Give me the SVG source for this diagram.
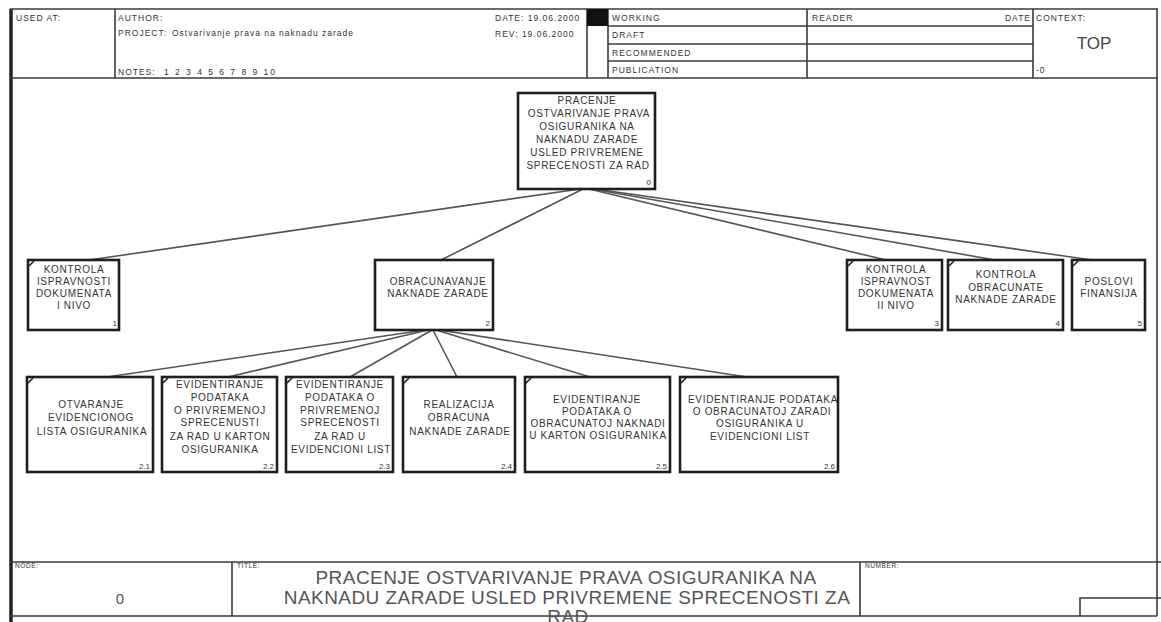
<svg xmlns="http://www.w3.org/2000/svg" width="1161" height="622" viewBox="0 0 1161 622">
  <style>
    .frame { stroke: #3a3a3a; stroke-width: 1.6; fill: none; }
    .hdr { font-family: "Liberation Sans", Arial, sans-serif; font-size: 8.5px; fill: #333; letter-spacing: 1px; }
    .small { font-family: "Liberation Sans", Arial, sans-serif; font-size: 6.5px; fill: #333; letter-spacing: 0.6px; }
    .box { fill: #fff; stroke: #1e1e1e; stroke-width: 2.6; }
    .lbl { font-family: "Liberation Sans", Arial, sans-serif; font-size: 10px; fill: #333; text-anchor: middle; letter-spacing: 0.7px; }
    .num { font-family: "Liberation Sans", Arial, sans-serif; font-size: 8px; fill: #333; text-anchor: end; }
    .tick { stroke: #1e1e1e; stroke-width: 1.6; }
    .conn line { stroke: #555; stroke-width: 1.6; }
    .title { font-family: "Liberation Sans", Arial, sans-serif; font-size: 19px; fill: #555; text-anchor: middle; letter-spacing: 0.45px; }
  </style>

  <rect width="1161" height="622" fill="#fff"/>

  <!-- outer frame -->
  <line x1="11" y1="9" x2="11" y2="622" stroke="#222" stroke-width="3.5"/>
  <line x1="1157" y1="9" x2="1157" y2="616" class="frame" stroke-width="1"/>

  <!-- header block -->
  <g id="header">
    <line class="frame" x1="10" y1="9" x2="1158" y2="9"/>
    <line class="frame" x1="10" y1="78" x2="1158" y2="78"/>
    <line class="frame" x1="115" y1="9" x2="115" y2="78"/>
    <line class="frame" x1="587" y1="9" x2="587" y2="78"/>
    <line class="frame" x1="608" y1="9" x2="608" y2="78"/>
    <line class="frame" x1="807" y1="9" x2="807" y2="78"/>
    <line class="frame" x1="1033" y1="9" x2="1033" y2="78"/>
    <line class="frame" x1="608" y1="26" x2="1033" y2="26"/>
    <line class="frame" x1="608" y1="44" x2="1033" y2="44"/>
    <line class="frame" x1="608" y1="61" x2="1033" y2="61"/>
    <rect x="587" y="9" width="21" height="17" fill="#111"/>

    <text class="hdr" x="16" y="21">USED AT:</text>
    <text class="hdr" x="118" y="21">AUTHOR:</text>
    <text class="hdr" x="118" y="36">PROJECT:</text>
    <text class="hdr" x="172" y="36">Ostvarivanje prava na naknadu zarade</text>
    <text class="hdr" x="118" y="75">NOTES:</text>
    <text class="hdr" x="164" y="75" textLength="112" lengthAdjust="spacing">1 2 3 4 5 6 7 8 9 10</text>
    <text class="hdr" x="495" y="21">DATE: 19.06.2000</text>
    <text class="hdr" x="495" y="37">REV:  19.06.2000</text>
    <text class="hdr" x="612" y="21">WORKING</text>
    <text class="hdr" x="612" y="38">DRAFT</text>
    <text class="hdr" x="612" y="56">RECOMMENDED</text>
    <text class="hdr" x="612" y="73">PUBLICATION</text>
    <text class="hdr" x="812" y="21">READER</text>
    <text class="hdr" x="1031" y="21" text-anchor="end">DATE</text>
    <text class="hdr" x="1036" y="21">CONTEXT:</text>
    <text x="1094" y="49" font-family="Liberation Sans, Arial, sans-serif" font-size="17" fill="#444" text-anchor="middle">TOP</text>
    <text class="hdr" x="1036" y="73">-0</text>
  </g>

  <!-- connectors -->
  <g id="connectors" class="conn">
    <line x1="580" y1="189" x2="89" y2="260"/>
    <line x1="583" y1="189" x2="441" y2="260"/>
    <line x1="589" y1="189" x2="886" y2="260"/>
    <line x1="592" y1="189" x2="995" y2="260"/>
    <line x1="595" y1="189" x2="1092" y2="260"/>
    <line x1="425" y1="330" x2="107" y2="377"/>
    <line x1="428" y1="330" x2="228" y2="377"/>
    <line x1="432" y1="330" x2="350" y2="377"/>
    <line x1="433" y1="330" x2="457" y2="377"/>
    <line x1="436" y1="330" x2="590" y2="377"/>
    <line x1="439" y1="330" x2="747" y2="377"/>
  </g>

  <!-- A0 -->
  <g id="node-0">
    <rect class="box" x="518" y="93" width="137" height="96"/>
    <text class="lbl" x="587" y="104">PRACENJE</text>
    <text class="lbl" x="589" y="117">OSTVARIVANJE PRAVA</text>
    <text class="lbl" x="587" y="130">OSIGURANIKA NA</text>
    <text class="lbl" x="587" y="143">NAKNADU ZARADE</text>
    <text class="lbl" x="587" y="156">USLED PRIVREMENE</text>
    <text class="lbl" x="588" y="169">SPRECENOSTI ZA RAD</text>
    <text class="num" x="651" y="185">0</text>
  </g>

  <g id="node-1">
    <rect class="box" x="28" y="260" width="91" height="70"/>
    <line class="tick" x1="29" y1="266" x2="34" y2="261"/>
    <text class="lbl" x="74" y="273">KONTROLA</text>
    <text class="lbl" x="74" y="285">ISPRAVNOSTI</text>
    <text class="lbl" x="74" y="297">DOKUMENATA</text>
    <text class="lbl" x="74" y="309">I NIVO</text>
    <text class="num" x="117" y="326">1</text>
  </g>

  <g id="node-2">
    <rect class="box" x="375" y="260" width="118" height="70"/>
    <text class="lbl" x="438" y="285">OBRACUNAVANJE</text>
    <text class="lbl" x="438" y="297">NAKNADE ZARADE</text>
    <text class="num" x="490" y="326">2</text>
  </g>

  <g id="node-3">
    <rect class="box" x="847" y="260" width="95" height="70"/>
    <line class="tick" x1="848" y1="266" x2="853" y2="261"/>
    <text class="lbl" x="896" y="273">KONTROLA</text>
    <text class="lbl" x="896" y="285">ISPRAVNOST</text>
    <text class="lbl" x="896" y="297">DOKUMENATA</text>
    <text class="lbl" x="896" y="309">II NIVO</text>
    <text class="num" x="939" y="326">3</text>
  </g>

  <g id="node-4">
    <rect class="box" x="948" y="260" width="115" height="70"/>
    <line class="tick" x1="949" y1="266" x2="954" y2="261"/>
    <text class="lbl" x="1006" y="278">KONTROLA</text>
    <text class="lbl" x="1006" y="291">OBRACUNATE</text>
    <text class="lbl" x="1006" y="303">NAKNADE ZARADE</text>
    <text class="num" x="1060" y="326">4</text>
  </g>

  <g id="node-5">
    <rect class="box" x="1072" y="260" width="73" height="70"/>
    <line class="tick" x1="1073" y1="266" x2="1078" y2="261"/>
    <text class="lbl" x="1109" y="285">POSLOVI</text>
    <text class="lbl" x="1109" y="297">FINANSIJA</text>
    <text class="num" x="1142" y="326">5</text>
  </g>

  <g id="node-2-1">
    <rect class="box" x="27" y="377" width="126" height="95"/>
    <line class="tick" x1="28" y1="383" x2="33" y2="378"/>
    <text class="lbl" x="91" y="408">OTVARANJE</text>
    <text class="lbl" x="91" y="421">EVIDENCIONOG</text>
    <text class="lbl" x="92" y="435">LISTA OSIGURANIKA</text>
    <text class="num" x="150" y="469">2.1</text>
  </g>

  <g id="node-2-2">
    <rect class="box" x="162" y="377" width="115" height="95"/>
    <line class="tick" x1="163" y1="383" x2="168" y2="378"/>
    <text class="lbl" x="220" y="388">EVIDENTIRANJE</text>
    <text class="lbl" x="220" y="401">PODATAKA</text>
    <text class="lbl" x="220" y="414">O PRIVREMENOJ</text>
    <text class="lbl" x="220" y="426">SPRECENUSTI</text>
    <text class="lbl" x="220" y="440">ZA RAD U KARTON</text>
    <text class="lbl" x="220" y="453">OSIGURANIKA</text>
    <text class="num" x="274" y="469">2.2</text>
  </g>

  <g id="node-2-3">
    <rect class="box" x="286" y="377" width="107" height="95"/>
    <line class="tick" x1="287" y1="383" x2="292" y2="378"/>
    <text class="lbl" x="340" y="388">EVIDENTIRANJE</text>
    <text class="lbl" x="340" y="401">PODATAKA O</text>
    <text class="lbl" x="340" y="414">PRIVREMENOJ</text>
    <text class="lbl" x="340" y="426">SPRECENOSTI</text>
    <text class="lbl" x="340" y="440">ZA RAD U</text>
    <text class="lbl" x="341" y="453">EVIDENCIONI LIST</text>
    <text class="num" x="390" y="469">2.3</text>
  </g>

  <g id="node-2-4">
    <rect class="box" x="403" y="377" width="112" height="95"/>
    <line class="tick" x1="404" y1="383" x2="409" y2="378"/>
    <text class="lbl" x="459" y="408">REALIZACIJA</text>
    <text class="lbl" x="459" y="421">OBRACUNA</text>
    <text class="lbl" x="460" y="435">NAKNADE ZARADE</text>
    <text class="num" x="512" y="469">2.4</text>
  </g>

  <g id="node-2-5">
    <rect class="box" x="525" y="377" width="145" height="95"/>
    <line class="tick" x1="526" y1="383" x2="531" y2="378"/>
    <text class="lbl" x="597" y="403">EVIDENTIRANJE</text>
    <text class="lbl" x="597" y="415">PODATAKA O</text>
    <text class="lbl" x="598" y="427">OBRACUNATOJ NAKNADI</text>
    <text class="lbl" x="598" y="439">U KARTON OSIGURANIKA</text>
    <text class="num" x="667" y="469">2.5</text>
  </g>

  <g id="node-2-6">
    <rect class="box" x="680" y="377" width="158" height="95"/>
    <line class="tick" x1="681" y1="383" x2="686" y2="378"/>
    <text class="lbl" x="763" y="403">EVIDENTIRANJE PODATAKA</text>
    <text class="lbl" x="762" y="415">O OBRACUNATOJ ZARADI</text>
    <text class="lbl" x="760" y="427">OSIGURANIKA U</text>
    <text class="lbl" x="760" y="440">EVIDENCIONI LIST</text>
    <text class="num" x="835" y="469">2.6</text>
  </g>

  <!-- footer block -->
  <g id="footer">
    <line class="frame" x1="10" y1="562" x2="1161" y2="562"/>
    <line class="frame" x1="10" y1="616" x2="1157" y2="616"/>
    <line class="frame" x1="232" y1="562" x2="232" y2="616"/>
    <line class="frame" x1="860" y1="562" x2="860" y2="616"/>
    <polyline class="frame" points="1080,616 1080,598 1161,598"/>
    <text class="small" x="15" y="568">NODE:</text>
    <text x="120" y="604" font-family="Liberation Sans, Arial, sans-serif" font-size="15" fill="#555" text-anchor="middle">0</text>
    <text class="small" x="237" y="568">TITLE:</text>
    <text class="title" x="566" y="584">PRACENJE OSTVARIVANJE PRAVA OSIGURANIKA NA</text>
    <text class="title" x="567" y="604">NAKNADU ZARADE USLED PRIVREMENE SPRECENOSTI ZA</text>
    <text class="title" x="568" y="623">RAD</text>
    <text class="small" x="865" y="568">NUMBER:</text>
  </g>
</svg>
